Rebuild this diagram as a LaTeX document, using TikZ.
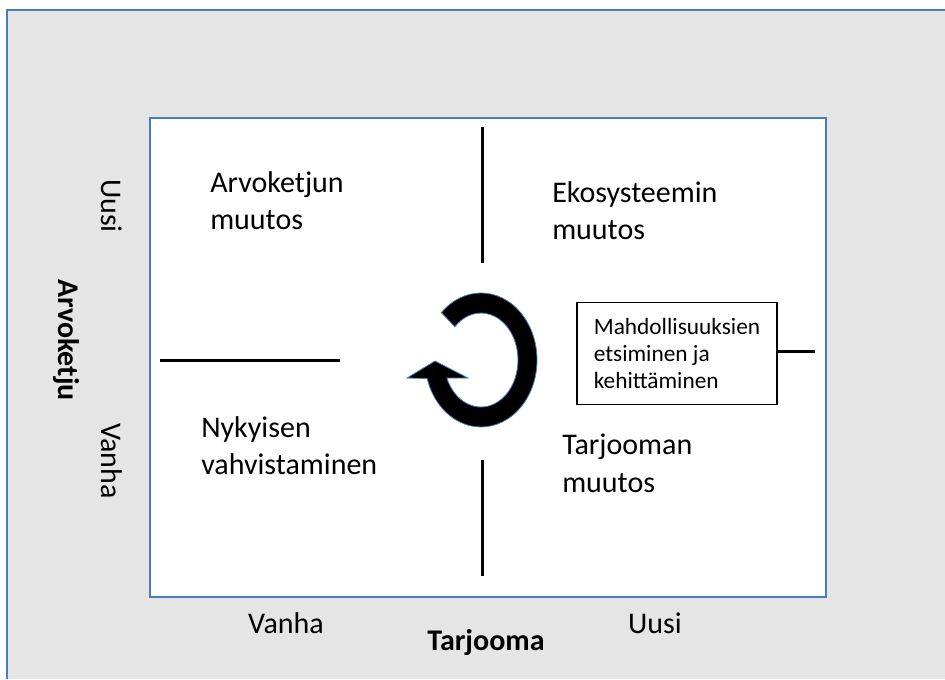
\documentclass[tikz,border=0pt]{standalone}
\usepackage{fontspec}
\setmainfont{Carlito}
\definecolor{frameblue}{RGB}{74,126,187}
\definecolor{bggray}{RGB}{229,229,229}
\tikzset{
  quad/.style={anchor=north west, inner sep=0pt, align=left, font=\fontsize{22.5}{28}\selectfont},
  axis/.style={inner sep=0pt, font=\fontsize{22.5}{28}\selectfont},
  axisbold/.style={inner sep=0pt, font=\fontsize{22.5}{28}\selectfont\bfseries},
  divider/.style={line width=2.25pt, black},
  notebox/.style={draw=black, line width=0.8pt, fill=white, minimum width=150pt, minimum height=77pt, align=left, inner sep=0pt, font=\fontsize{17.5}{20.6}\selectfont}
}
\begin{document}
\begin{tikzpicture}[x=0.75pt, y=-0.75pt]
\useasboundingbox (0,0) rectangle (945,679);
\fill[white] (0,0) rectangle (945,679);
% outer frame
\fill[bggray] (6.5,9.5) rectangle (945,679);
\draw[frameblue, line width=1.5pt] (6.5,679) -- (6.5,9.5) -- (945,9.5);
% inner matrix
\node[draw=frameblue, line width=1.5pt, fill=white, anchor=north west, inner sep=0pt, minimum width=507pt, minimum height=359.25pt] (matrix) at (149,117) {};
% dividers
\coordinate (vt1) at (482,127);
\coordinate (vt2) at (482,263);
\coordinate (vb1) at (482,460);
\coordinate (vb2) at (482,576);
\coordinate (h1) at (160,360);
\coordinate (h2) at (340,360);
\draw[divider] (vt1) -- (vt2);
\draw[divider] (vb1) -- (vb2);
\draw[divider] (h1) -- (h2);
% quadrant labels
\node[quad] (q1) at (210,171) {Arvoketjun\\muutos};
\node[quad] (q2) at (552,181) {Ekosysteemin\\muutos};
\node[quad] (q3) at (201,416) {Nykyisen\\vahvistaminen};
\node[quad] (q4) at (562,434) {Tarjooman\\muutos};
% note box
\node[notebox] (note) at (677,353.5) {Mahdollisuuksien\\etsiminen ja\\kehittäminen};
\coordinate (noteend) at (815,351);
\draw[divider] (note.east |- noteend) -- (noteend);
% axis labels
\node[axis, rotate=-90] (yuusi) at (112,206) {Uusi};
\node[axis, rotate=-90] (yvanha) at (112,461) {Vanha};
\node[axisbold, rotate=-90] (yaxis) at (66,340) {Arvoketju};
\node[axis] (xvanha) at (286,623) {Vanha};
\node[axis] (xuusi) at (655,623) {Uusi};
\node[axisbold] (xaxis) at (486,642) {Tarjooma};
% circular arrow
\filldraw[fill=black, draw=frameblue, line width=0.6pt]
  (441.4,312.6) arc[start angle=-135, end angle=164, x radius=56, y radius=67]
  -- (407,378) -- (435,361) -- (468,378) -- (446.8,378)
  arc[start angle=157.5, end angle=-135, x radius=37, y radius=47] -- cycle;
\end{tikzpicture}
\end{document}
